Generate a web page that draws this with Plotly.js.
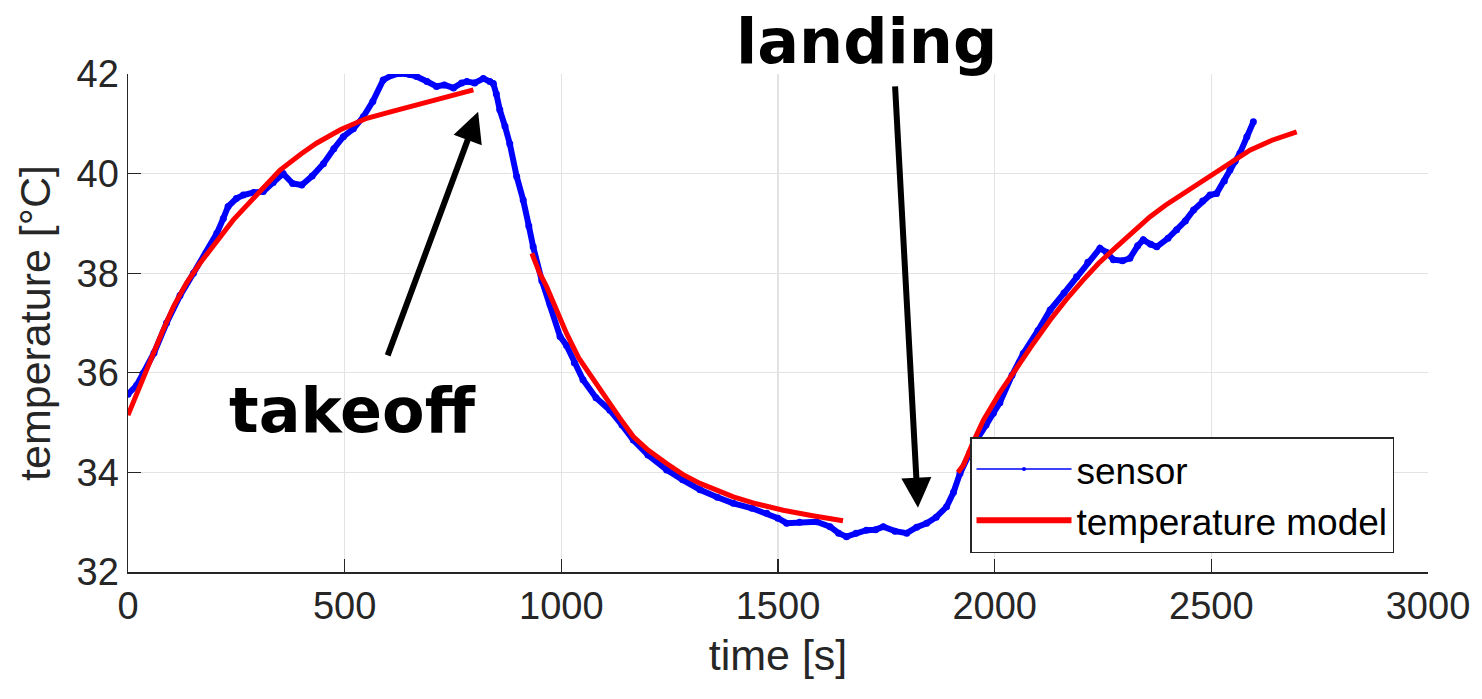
<!DOCTYPE html>
<html>
<head>
<meta charset="utf-8">
<script src="https://cdn.plot.ly/plotly-3.0.1.min.js"></script>
<style>html,body{margin:0;padding:0;background:#fff;}#chart{width:1482px;height:699px;}</style>
</head>
<body>
<div id="chart"></div>
<script>
// sensor readings: time [s] and temperature [°C]
const sensorTime = [0,20,35,60,89,120,151,180,205,220,231,250,266,290,312,335,358,380,401,425,451,475,497,520,543,565,589,610,628,650,666,690,712,730,751,770,782,800,820,835,843,850,858,870,881,897,912,925,935,955,974,997,1012,1030,1050,1080,1112,1140,1166,1200,1243,1280,1320,1360,1397,1440,1474,1500,1520,1550,1589,1620,1640,1658,1680,1704,1725,1743,1770,1797,1820,1843,1865,1889,1905,1920,1943,1958,1980,1997,2012,2040,2066,2100,2128,2160,2189,2215,2243,2258,2274,2295,2312,2330,2343,2360,2374,2400,2420,2440,2459,2480,2497,2512,2530,2543,2555,2566,2582,2597];
const sensorTemp = [35.57,35.75,35.99,36.4,37.0,37.55,38.0,38.4,38.8,39.1,39.34,39.5,39.57,39.62,39.64,39.82,40.0,39.8,39.77,39.95,40.2,40.5,40.74,40.9,41.14,41.45,41.88,41.98,42.01,41.99,41.95,41.85,41.75,41.78,41.72,41.82,41.85,41.82,41.91,41.85,41.81,41.6,41.28,40.95,40.6,39.94,39.47,38.95,38.53,37.85,37.37,36.73,36.55,36.2,35.86,35.5,35.25,34.95,34.65,34.35,34.05,33.85,33.65,33.5,33.38,33.28,33.18,33.08,32.98,33.0,33.01,32.91,32.78,32.71,32.78,32.84,32.85,32.91,32.82,32.78,32.9,32.98,33.1,33.31,33.6,33.98,34.4,34.65,34.95,35.19,35.4,35.95,36.39,36.85,37.26,37.6,37.93,38.22,38.5,38.42,38.27,38.25,38.3,38.55,38.67,38.58,38.53,38.7,38.87,39.05,39.27,39.45,39.57,39.6,39.85,40.07,40.25,40.41,40.74,41.04];

// temperature model: three segments separated by gaps (null)
const modelTime = [0,25,51,78,105,135,166,200,243,300,351,400,435,490,551,610,666,730,797,null,
  932,950,966,990,1012,1040,1074,1105,1135,1166,1200,1243,1280,1320,1360,1397,1450,1512,1580,1643,1650,null,
  1915,1928,1950,1974,2012,2051,2090,2128,2165,2204,2240,2281,2320,2358,2395,2435,2475,2512,2550,2589,2640,2697];
const modelTemp = [35.15,35.7,36.26,36.8,37.33,37.8,38.2,38.6,39.07,39.6,40.07,40.4,40.61,40.88,41.11,41.25,41.38,41.52,41.68,null,
  38.4,38.0,37.73,37.22,36.79,36.3,35.86,35.45,35.09,34.72,34.45,34.18,33.96,33.78,33.63,33.51,33.37,33.24,33.13,33.04,33.03,null,
  34.0,34.15,34.6,35.05,35.6,36.12,36.6,37.06,37.47,37.86,38.2,38.53,38.84,39.13,39.37,39.6,39.83,40.04,40.26,40.47,40.67,40.84];

const seriesNames = ["sensor", "temperature model"];
const xTicks = [0,500,1000,1500,2000,2500,3000];
const yTicks = [32,34,36,38,40,42];

const axisColor = "#262626";
const gridColor = "#e3e3e3";
const tickFont = {family: "Liberation Sans, Arial, sans-serif", size: 38, color: axisColor};
const titleFont = {family: "Liberation Sans, Arial, sans-serif", size: 43, color: axisColor};

const traces = [
  {x: sensorTime, y: sensorTemp, mode: "lines+markers", type: "scatter",
   line: {color: "#0000ff", width: 6}, marker: {color: "#0000ff", size: 7},
   showlegend: false, hoverinfo: "skip"},
  {x: modelTime, y: modelTemp, mode: "lines", type: "scatter", connectgaps: false,
   line: {color: "#ff0000", width: 5}, showlegend: false, hoverinfo: "skip"},
  {x: [null], y: [null], mode: "lines+markers", type: "scatter", name: seriesNames[0],
   line: {color: "#0000ff", width: 1.5}, marker: {color: "#0000ff", size: 4}},
  {x: [null], y: [null], mode: "lines", type: "scatter", name: seriesNames[1],
   line: {color: "#ff0000", width: 6}}
];

const boldFont = {family: "DejaVu Sans, sans-serif", size: 62, color: "#000000", weight: "bold"};

const layout = {
  width: 1482, height: 699,
  margin: {l: 128, r: 54, t: 74, b: 127, pad: 0},
  paper_bgcolor: "#ffffff", plot_bgcolor: "#ffffff",
  showlegend: true,
  legend: {x: 0.6477, y: 0.271, xanchor: "left", yanchor: "top",
    bgcolor: "#ffffff", bordercolor: axisColor, borderwidth: 1.5,
    font: {family: "Liberation Sans, Arial, sans-serif", size: 37, color: "#000000"},
    itemwidth: 95, tracegroupgap: 0},
  xaxis: {range: [0, 3000], tickvals: xTicks, ticktext: xTicks.map(String),
    showgrid: true, gridcolor: gridColor, gridwidth: 1.2, zeroline: false,
    showline: true, linecolor: axisColor, linewidth: 1.5,
    ticks: "inside", ticklen: 13, tickcolor: axisColor, tickwidth: 1.2,
    tickfont: tickFont, automargin: false,
    title: {text: "time [s]", font: titleFont, standoff: 14}},
  yaxis: {range: [32, 42], tickvals: yTicks, ticktext: yTicks.map(String),
    showgrid: true, gridcolor: gridColor, gridwidth: 1.2, zeroline: false,
    showline: true, linecolor: axisColor, linewidth: 1.5,
    ticks: "inside", ticklen: 13, tickcolor: axisColor, tickwidth: 1.2,
    tickfont: tickFont, automargin: false,
    title: {text: "temperature [°C]", font: titleFont, standoff: 12}},
  annotations: [
    {x: 517, y: 35.25, xref: "x", yref: "y", text: "takeoff", showarrow: false,
     font: boldFont, xanchor: "center", yanchor: "middle"},
    {x: 1705, y: 1.066, xref: "x", yref: "paper", text: "landing", showarrow: false,
     font: boldFont, xanchor: "center", yanchor: "middle"},
    {x: 808, y: 41.24, ax: 598, ay: 36.32, xref: "x", yref: "y", axref: "x", ayref: "y",
     text: "", showarrow: true, arrowhead: 2, arrowsize: 1, arrowwidth: 6, arrowcolor: "#000000", standoff: 0},
    {x: 1823, y: 33.29, ax: 1770, ay: 41.78, xref: "x", yref: "y", axref: "x", ayref: "y",
     text: "", showarrow: true, arrowhead: 2, arrowsize: 1, arrowwidth: 6, arrowcolor: "#000000", standoff: 0}
  ]
};

Plotly.newPlot("chart", traces, layout, {displayModeBar: false, staticPlot: true});
</script>
</body>
</html>
